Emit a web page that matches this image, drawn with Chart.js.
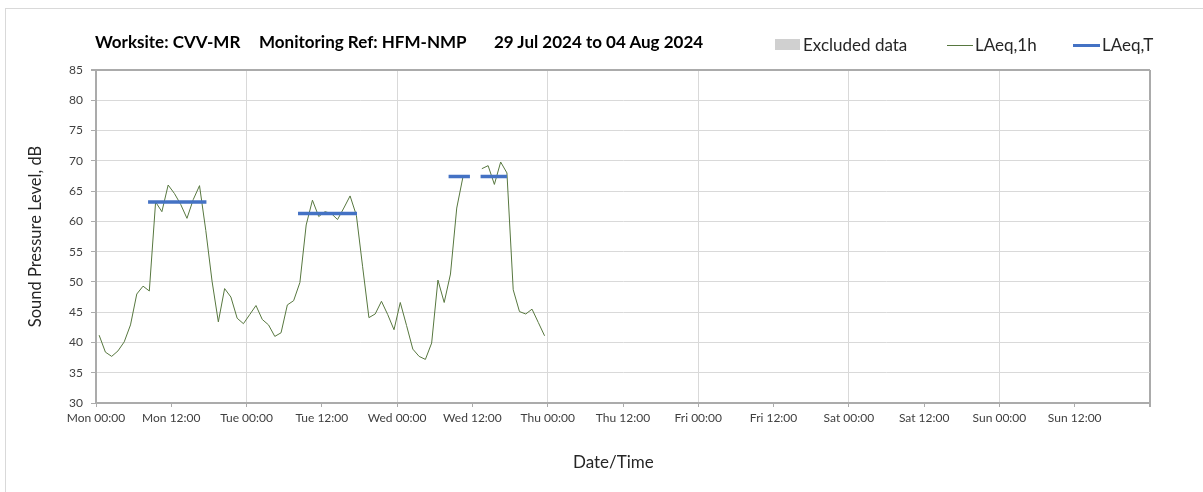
<!DOCTYPE html>
<html><head><meta charset="utf-8">
<script src="https://cdn.jsdelivr.net/npm/chart.js@4.4.1/dist/chart.umd.min.js"></script>
<style>
html,body{margin:0;padding:0;background:#fff;overflow:hidden;width:1203px;height:492px}
#wrap{position:relative;width:1203px;height:492px;overflow:hidden}
#frame{position:absolute;left:5px;top:8px;width:1400px;height:700px;border:1px solid #d9d9d9;box-sizing:border-box}
canvas{position:absolute;left:0;top:0}
.t{position:absolute;font-family:Lato,"Open Sans",sans-serif;font-weight:bold;font-size:17px;color:#000;white-space:nowrap;top:31px}
.lg{position:absolute;font-family:Lato,"Open Sans",sans-serif;font-size:17px;color:#262626;white-space:nowrap;top:34px}
.ax{position:absolute;font-family:Lato,"Open Sans",sans-serif;font-size:17px;color:#262626;white-space:nowrap}
.sw{position:absolute}
</style></head>
<body>
<div id="wrap">
<div id="frame"></div>
<canvas id="c" width="1203" height="492"></canvas>
<div class="t" style="left:95px">Worksite: CVV-MR</div>
<div class="t" style="left:259px">Monitoring Ref: HFM-NMP</div>
<div class="t" style="left:494px">29 Jul 2024 to 04 Aug 2024</div>
<div class="sw" style="left:775px;top:39px;width:25px;height:11px;background:#d0d0d0"></div>
<div class="lg" style="left:803px">Excluded data</div>
<div class="sw" style="left:947px;top:45px;width:26px;height:1px;background:#57773f"></div>
<div class="lg" style="left:975px">LAeq,1h</div>
<div class="sw" style="left:1073px;top:44px;width:27px;height:3px;background:#4472c4"></div>
<div class="lg" style="left:1102px">LAeq,T</div>
<div class="ax" style="left:573px;top:451px">Date/Time</div>
</div>
<script>
// Hourly LAeq,1h values starting Mon 00:00 (null = no data)
const hourlyLAeq = [
  41.2, 38.4, 37.7, 38.6, 40.1, 42.9, 48.0, 49.3, 48.5, 63.2, 61.6, 66.0,
  64.6, 62.8, 60.5, 63.6, 65.9, 58.5, 50.1, 43.4, 48.9, 47.5, 44.0, 43.1,
  44.6, 46.1, 43.8, 42.9, 41.0, 41.6, 46.2, 46.9, 49.9, 59.4, 63.5, 60.8,
  61.6, 61.3, 60.3, 62.2, 64.2, 61.0, 52.5, 44.1, 44.7, 46.8, 44.6, 42.1,
  46.6, 42.8, 38.9, 37.7, 37.2, 39.9, 50.3, 46.6, 51.3, 62.2, 67.4, null,
  null, 68.7, 69.2, 66.1, 69.8, 68.0, 48.7, 45.1, 44.7, 45.5, 43.3, 41.1
];
// LAeq,T periods (hours from Mon 00:00) and levels
const ltStart = [8.3, 32.2, 56.2, 61.3];
const ltEnd   = [17.6, 41.6, 59.6, 65.5];
const ltLevel = [63.2, 61.3, 67.4, 67.4];
// Axis tick labels
const dayNames = ['Mon', 'Tue', 'Wed', 'Thu', 'Fri', 'Sat', 'Sun'];
const timeNames = ['00:00', '12:00'];

const lineData = hourlyLAeq.map((v, i) => ({x: i + 0.5, y: v}));
const ltData = [];
ltStart.forEach((s, i) => {
  ltData.push({x: s, y: ltLevel[i]});
  ltData.push({x: ltEnd[i], y: ltLevel[i]});
  ltData.push({x: ltEnd[i], y: null});
});

const tickFont = {family: 'Lato, "Open Sans", sans-serif', size: 12};
const titleFont = {family: 'Lato, "Open Sans", sans-serif', size: 16.5};

new Chart(document.getElementById('c'), {
  type: 'line',
  data: {
    datasets: [
      {label: 'LAeq,1h', data: lineData, borderColor: '#57773f', borderWidth: 1,
       pointRadius: 0, tension: 0, spanGaps: false, order: 2},
      {label: 'LAeq,T', data: ltData, borderColor: '#4472c4', borderWidth: 3.5,
       pointRadius: 0, tension: 0, spanGaps: false, order: 1, borderCapStyle: 'butt'}
    ]
  },
  options: {
    responsive: false,
    animation: false,
    events: [],
    layout: {padding: {left: 0, top: 70, right: 53, bottom: 0}},
    plugins: {legend: {display: false}, title: {display: false}, tooltip: {enabled: false}},
    scales: {
      x: {
        type: 'linear', min: 0, max: 168,
        afterFit: s => { s.height = 89; },
        border: {color: '#ababab', width: 2},
        grid: {
          color: c => (c.tick && c.tick.value === 168) ? '#ababab' : ((c.tick && c.tick.value % 24 === 0) ? '#d9d9d9' : 'rgba(0,0,0,0)'),
          lineWidth: c => (c.tick && c.tick.value === 168) ? 2 : 1,
          tickColor: '#ababab', tickLength: 4, drawTicks: true
        },
        ticks: {
          stepSize: 12, autoSkip: false, maxRotation: 0, maxTicksLimit: 30, padding: 4,
          color: '#404040', font: tickFont,
          callback: v => v >= 168 ? '' : dayNames[Math.floor(v / 24)] + ' ' + timeNames[(v % 24) / 12]
        },
        title: {display: false}
      },
      y: {
        min: 30, max: 85,
        afterFit: s => { s.width = 96; },
        border: {color: '#ababab', width: 2},
        grid: {
          color: c => (c.tick && c.tick.value === 85) ? '#ababab' : '#d9d9d9',
          lineWidth: c => (c.tick && c.tick.value === 85) ? 2 : 1,
          tickColor: '#ababab', tickLength: 5
        },
        ticks: {stepSize: 5, color: '#404040', font: tickFont, padding: 8},
        title: {display: true, text: 'Sound Pressure Level, dB', color: '#262626', font: titleFont,
                padding: {top: 26, bottom: 0}}
      }
    }
  }
});
</script>
</body></html>
